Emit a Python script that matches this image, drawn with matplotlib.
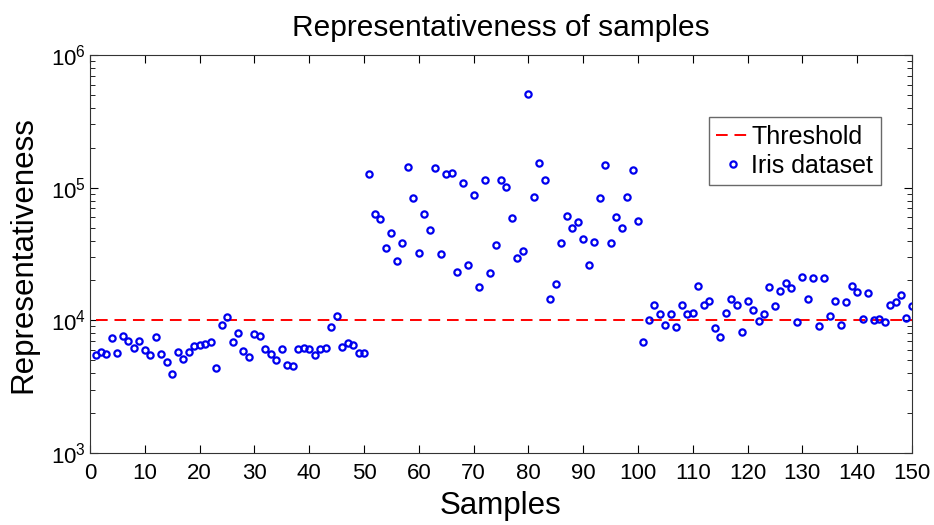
import matplotlib.pyplot as plt
import numpy as np

plt.rcParams['font.family'] = ['Liberation Sans', 'DejaVu Sans']

# log10 of representativeness, samples 1..150
log_vals = [
    3.742, 3.759, 3.750, 3.865, 3.757, 3.885, 3.845, 3.795, 3.845, 3.780,
    3.742, 3.877, 3.750, 3.684, 3.597, 3.759, 3.712, 3.762, 3.805, 3.812,
    3.825, 3.840, 3.641, 3.962, 4.025, 3.840, 3.902, 3.769, 3.722, 3.897,
    3.880, 3.782, 3.744, 3.704, 3.782, 3.662, 3.654, 3.782, 3.795, 3.782,
    3.737, 3.782, 3.795, 3.953, 4.032, 3.800, 3.827, 3.817, 3.757, 3.752,
    5.103, 4.802, 4.765, 4.547, 4.662, 4.451, 4.584, 5.153, 4.922, 4.509,
    4.802, 4.682, 5.148, 4.501, 5.103, 5.110, 4.363, 5.033, 4.421, 4.947,
    4.253, 5.058, 4.356, 4.566, 5.058, 5.008, 4.769, 4.471, 4.521, 5.707,
    4.930, 5.190, 5.058, 4.158, 4.273, 4.584, 4.789, 4.694, 4.744, 4.612,
    4.421, 4.592, 4.922, 5.173, 4.584, 4.782, 4.694, 4.930, 5.133, 4.752,
    3.840, 4.005, 4.113, 4.050, 3.962, 4.050, 3.947, 4.113, 4.050, 4.055,
    4.261, 4.113, 4.145, 3.942, 3.872, 4.055, 4.160, 4.113, 3.910, 4.145,
    4.080, 3.992, 4.045, 4.253, 4.105, 4.220, 4.281, 4.248, 3.985, 4.331,
    4.165, 4.318, 3.955, 4.318, 4.030, 4.145, 3.962, 4.138, 4.256, 4.216,
    4.010, 4.203, 4.005, 4.013, 3.985, 4.120, 4.138, 4.190, 4.017, 4.105,
]
samples = np.arange(1, 151)
values = 10 ** np.array(log_vals)
threshold = 1e4
xticks = list(range(0, 151, 10))

fig = plt.figure(figsize=(9.34, 5.25), dpi=100)
ax = fig.add_axes([0.0964, 0.137, 0.88, 0.758])

ax.plot([samples[0], samples[-1]], [threshold, threshold], '--', color='#ff0000',
        linewidth=1.4, dashes=(6, 3.5), label='Threshold')
ax.plot(samples, values, 'o', markerfacecolor='none', markeredgecolor='#0000ee',
        markersize=4.5, markeredgewidth=1.6, linestyle='none', label='Iris dataset')

ax.set_yscale('log')
ax.set_xlim(0, 150)
ax.set_ylim(1e3, 1e6)
ax.set_xticks(xticks)
ax.tick_params(which='both', direction='in', top=True, right=True, labelsize=16)
ax.tick_params(axis='x', pad=7)
ax.tick_params(axis='y', pad=3)
ax.tick_params(which='major', length=6)
ax.tick_params(which='minor', length=3.5)
for s in ax.spines.values():
    s.set_color('#333333')

ax.set_title('Representativeness of samples', fontsize=21.5, pad=14)
ax.set_xlabel('Samples', fontsize=22.5, labelpad=5)
ax.set_ylabel('Representativeness', fontsize=22.5, labelpad=9)

leg = ax.legend(loc='upper right', bbox_to_anchor=(0.962, 0.844), fontsize=18,
                frameon=True, fancybox=False, edgecolor='#444444',
                handlelength=1.3, handletextpad=0.1, borderpad=0.3,
                labelspacing=0.2, borderaxespad=0)
leg.get_frame().set_linewidth(1.0)

fig.savefig('out.png', dpi=100)
